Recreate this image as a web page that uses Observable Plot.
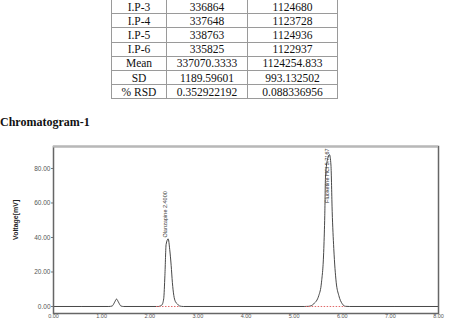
<!DOCTYPE html>
<html><head><meta charset="utf-8">
<script src="https://cdn.jsdelivr.net/npm/d3@7"></script>
<script src="https://cdn.jsdelivr.net/npm/@observablehq/plot@0.6"></script>
<style>
html,body{margin:0;padding:0;width:451px;height:319px;overflow:hidden;background:#fff;}
#tbl{position:absolute;left:111px;top:-1px;border-collapse:collapse;table-layout:fixed;width:226px;font-family:"Liberation Serif","Times New Roman",serif;font-size:11.5px;color:#111;}
#tbl td{border:1px solid #9a9a9a;padding:0;text-align:center;line-height:12px;height:13.2px;white-space:nowrap;}
#heading{position:absolute;left:0;top:115px;font:bold 12px "Liberation Serif","Times New Roman",serif;color:#111;}
#chart{position:absolute;left:0;top:130px;}
</style></head><body>
<table id="tbl"><colgroup><col style="width:55px"><col style="width:81px"><col style="width:90px"></colgroup><tbody></tbody></table>
<div id="heading">Chromatogram-1</div>
<div id="chart"></div>
<script>
// ---- table data ----
const rowLabels = ["I.P-3","I.P-4","I.P-5","I.P-6","Mean","SD","% RSD"];
const areaCol1 = ["336864","337648","338763","335825","337070.3333","1189.59601","0.352922192"];
const areaCol2 = ["1124680","1123728","1124936","1122937","1124254.833","993.132502","0.088336956"];

// ---- chromatogram trace ----
const traceTime = [0, 1.15, 1.22, 1.27, 1.31, 1.35, 1.40, 1.46,
  2.18, 2.25, 2.29, 2.315, 2.34, 2.383, 2.415, 2.445, 2.47, 2.50, 2.53, 2.57, 2.62, 2.70,
  5.22, 5.305, 5.41, 5.513, 5.569, 5.617, 5.637, 5.652, 5.70, 5.735, 5.765, 5.791, 5.824, 5.874, 5.928, 5.999, 6.067, 6.15, 8];
const traceMv = [0, 0, 0.3, 2.5, 4.3, 2.5, 0.3, 0,
  0, 0.8, 4.5, 18, 36, 39.2, 33, 23.8, 14, 6.4, 3, 1.6, 0.3, 0,
  0, 0.1, 1.6, 6.4, 14.1, 33.6, 52.8, 75, 86, 88, 82, 55, 33.6, 14.1, 6.4, 1.6, 0.1, 0, 0];

const peakNames = ["Olanzapine 2.4000", "Fluoxetine HCl 5.7167"];
const peakTimes = [2.4, 5.7167];
const peakApex = [39.2, 88];
const integStart = [2.14, 5.25];
const integEnd = [2.64, 6.07];

const xTicks = [0,1,2,3,4,5,6,7,8];
const yTicks = [0,20,40,60,80];
const yLabel = "Voltage[mV]";

// build table
const tbody = document.querySelector("#tbl tbody");
rowLabels.forEach((r, i) => {
  const tr = document.createElement("tr");
  [r, areaCol1[i], areaCol2[i]].forEach(v => {
    const td = document.createElement("td"); td.textContent = v; tr.appendChild(td);
  });
  tbody.appendChild(tr);
});

const trace = traceTime.map((t, i) => ({t, mv: traceMv[i]}));
const peaks = peakNames.map((name, i) => ({name, t: peakTimes[i], apex: peakApex[i], s: integStart[i], e: integEnd[i]}));
const fmt = d3.format(".2f");
const yMin = -4.06, yMax = 92.75;

const chart = Plot.plot({
  width: 451, height: 189,
  marginLeft: 53, marginRight: 13, marginTop: 16, marginBottom: 6,
  style: {fontFamily: "'Liberation Sans', Arial, sans-serif", fontSize: "6.5px", background: "white", color: "#555"},
  x: {domain: [0, 8]},
  y: {domain: [yMin, yMax]},
  marks: [
    Plot.axisX({ticks: xTicks, tickFormat: fmt, tickSize: 1, tickPadding: 0, label: null, stroke: "#777", fontSize: 5.5}),
    Plot.axisY({ticks: yTicks, tickFormat: fmt, tickSize: 2, tickPadding: 1, label: null, stroke: "#777"}),
    Plot.text([yLabel], {frameAnchor: "left", rotate: -90, dx: -38, dy: 10, fontWeight: "bold", fontSize: 7, fill: "#222"}),
    Plot.line(trace, {x: "t", y: "mv", curve: "monotone-x", stroke: "#333", strokeWidth: 0.9}),
    Plot.ruleY(peaks, {y: 0, x1: "s", x2: "e", stroke: "#e06a6a", strokeDasharray: "1.5,1.5", strokeWidth: 1}),
    Plot.text([peaks[0]], {x: "t", y: "apex", text: "name", rotate: -90, textAnchor: "start", dx: -4, dy: -1.5, fontSize: 5.5, fill: "#333"}),
    Plot.text([peaks[1]], {x: "t", text: "name", frameAnchor: "top", rotate: -90, textAnchor: "end", dx: -4, dy: 2, fontSize: 5.5, fill: "#333"}),
    Plot.frame({stroke: "#666", strokeWidth: 1.5}),
    Plot.ruleY([yMax], {stroke: "#b8b8b8", strokeWidth: 2})
  ]
});
document.getElementById("chart").appendChild(chart);
</script>
</body></html>
